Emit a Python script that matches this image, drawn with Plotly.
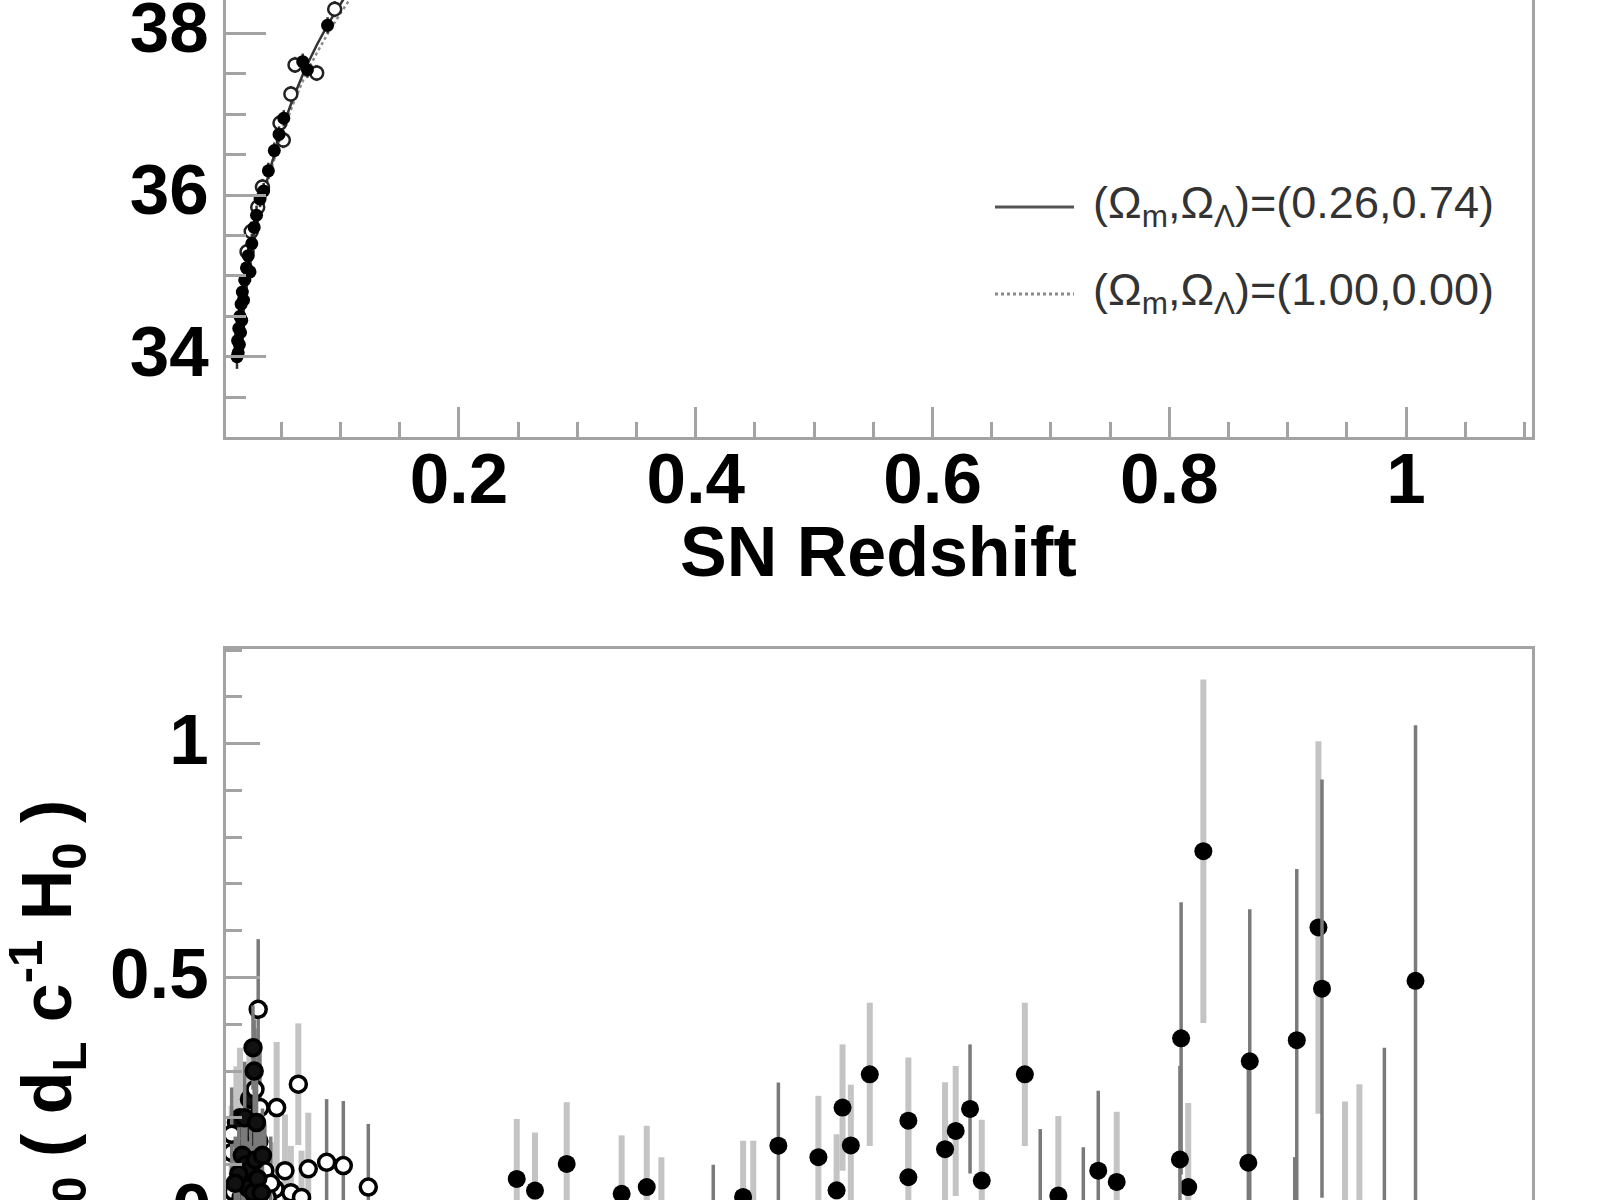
import plotly.graph_objects as go

# ---------------- data: top panel (distance modulus vs redshift, visible low-z part) ----------------
curve_z = [0.013, 0.015, 0.0175, 0.02, 0.025, 0.03, 0.035, 0.04, 0.05, 0.06, 0.07, 0.08, 0.09, 0.10, 0.11]
curve_mu_lcdm = [33.95, 34.15, 34.50, 34.80, 35.28, 35.68, 36.02, 36.30, 36.80, 37.20, 37.56, 37.86, 38.13, 38.37, 38.60]
curve_mu_eds = [33.94, 34.13, 34.48, 34.78, 35.25, 35.64, 35.98, 36.25, 36.74, 37.13, 37.48, 37.76, 38.02, 38.25, 38.47]

top_filled_z = [0.0125, 0.013, 0.0135, 0.014, 0.0145, 0.015, 0.0155, 0.016, 0.0165, 0.017, 0.018, 0.019,
                0.0205, 0.022, 0.0235, 0.025, 0.027, 0.029, 0.032, 0.035, 0.039, 0.044, 0.048, 0.052,
                0.068, 0.072, 0.089]
top_filled_mu = [34.00, 34.20, 34.05, 34.35, 34.15, 34.50, 34.30, 34.65, 34.45, 34.80, 34.70, 34.95,
                 35.10, 35.25, 35.05, 35.40, 35.60, 35.75, 35.95, 36.05, 36.30, 36.55, 36.75, 36.95,
                 37.65, 37.55, 38.10]
top_filled_err = [0.15, 0.15, 0.12, 0.15, 0.12, 0.15, 0.12, 0.15, 0.12, 0.15, 0.12, 0.12,
                  0.12, 0.12, 0.12, 0.12, 0.12, 0.12, 0.10, 0.10, 0.10, 0.10, 0.10, 0.10,
                  0.10, 0.10, 0.10]

top_open_z = [0.021, 0.0245, 0.030, 0.034, 0.0488, 0.0516, 0.058, 0.0615, 0.0798, 0.095]
top_open_mu = [35.30, 35.55, 35.85, 36.10, 36.89, 36.68, 37.25, 37.61, 37.51, 38.30]
top_open_err = [0.12, 0.12, 0.12, 0.10, 0.10, 0.10, 0.10, 0.10, 0.10, 0.10]

# ---------------- data: bottom panel (log10(dL c^-1 H0)) ----------------
low_z = [0.0304, 0.0643, 0.046, 0.0319, 0.0277, 0.0882, 0.1023, 0.0727, 0.1234, 0.053, 0.036, 0.008,
         0.0094, 0.0446, 0.008, 0.015, 0.017, 0.018, 0.020, 0.021, 0.022, 0.024, 0.025, 0.026,
         0.028, 0.030, 0.031, 0.033, 0.034, 0.014, 0.012, 0.019, 0.023, 0.027, 0.029, 0.026,
         0.011, 0.016, 0.038, 0.041, 0.058, 0.067]
low_v = [0.432, 0.272, 0.222, 0.222, 0.261, 0.105, 0.098, 0.091, 0.052, 0.087, 0.087, 0.126,
         0.042, 0.048, 0.165, 0.200, 0.120, 0.060, 0.100, 0.140, 0.050, 0.090, 0.170, 0.040,
         0.110, 0.070, 0.150, 0.040, 0.120, 0.080, 0.190, 0.200, 0.240, 0.300, 0.190, 0.350,
         0.060, 0.030, 0.030, 0.060, 0.040, 0.030]
low_err = [0.150, 0.130, 0.140, 0.140, 0.130, 0.135, 0.138, 0.120, 0.135, 0.120, 0.100, 0.100,
           0.100, 0.100, 0.100, 0.150, 0.100, 0.100, 0.100, 0.120, 0.100, 0.100, 0.120, 0.100,
           0.100, 0.100, 0.110, 0.100, 0.100, 0.100, 0.120, 0.120, 0.120, 0.110, 0.100, 0.090,
           0.100, 0.100, 0.100, 0.100, 0.100, 0.100]
low_bar_dark = [1, 0, 0, 1, 1, 1, 1, 0, 1, 0, 1, 0,
                0, 0, 1, 0, 1, 1, 1, 0, 1, 1, 0, 1,
                1, 1, 0, 1, 1, 1, 0, 1, 0, 1, 1, 1,
                1, 0, 0, 1, 0, 0]
# 1 = dense low-z cluster drawn as solid dark marks
low_dense = [0, 0, 0, 0, 0, 0, 0, 0, 0, 0, 0, 0,
             0, 0, 0, 1, 1, 1, 1, 1, 1, 1, 1, 1,
             1, 1, 1, 1, 1, 1, 1, 1, 1, 1, 1, 1,
             1, 1, 0, 0, 0, 0]

high_z = [0.2488, 0.2642, 0.291, 0.3374, 0.3586, 0.440, 0.4698, 0.5036, 0.519, 0.524, 0.531, 0.547,
          0.5796, 0.5796, 0.6106, 0.6196, 0.6317, 0.6416, 0.678, 0.7063, 0.740, 0.7556, 0.809, 0.810,
          0.816, 0.8288, 0.868, 0.8668, 0.9077, 0.926, 0.929, 1.008,
          0.371, 0.4148, 0.4486, 0.691, 0.7274, 0.906, 0.9485, 0.9606, 0.9817]
high_v = [0.0695, 0.0446, 0.1015, 0.0375, 0.052, 0.031, 0.1405, 0.116, 0.045, 0.222, 0.141, 0.293,
          0.194, 0.073, 0.133, 0.172, 0.219, 0.066, 0.293, 0.034, 0.087, 0.063, 0.111, 0.370,
          0.052, 0.770, 0.321, 0.104, 0.366, 0.607, 0.476, 0.493,
          -0.03, -0.05, -0.02, -0.05, -0.03, -0.15, -0.10, -0.12, -0.06]
high_err = [0.128, 0.124, 0.132, 0.125, 0.131, 0.120, 0.135, 0.131, 0.120, 0.135, 0.130, 0.153,
            0.135, 0.130, 0.143, 0.139, 0.138, 0.130, 0.153, 0.170, 0.171, 0.150, 0.200, 0.291,
            0.180, 0.367, 0.325, 0.200, 0.366, 0.398, 0.447, 0.546,
            0.146, 0.150, 0.171, 0.226, 0.167, 0.266, 0.335, 0.392, 0.410]
high_bar_dark = [0, 0, 0, 0, 0, 0, 1, 0, 0, 0, 0, 0,
                 0, 0, 0, 0, 1, 0, 0, 0, 1, 0, 1, 1,
                 0, 0, 1, 1, 1, 0, 1, 1,
                 0, 1, 0, 1, 1, 1, 0, 0, 1]

# ---------------- tick labels ----------------
x_tickvals = [0.2, 0.4, 0.6, 0.8, 1.0]
x_ticktext = ["0.2", "0.4", "0.6", "0.8", "1"]
top_y_tickvals = [34, 36, 38]
top_y_ticktext = ["34", "36", "38"]
bot_y_tickvals = [0.5, 1.0]
bot_y_ticktext = ["0.5", "1"]
bot_zero_label = "0"

legend_labels = ["(Ω<sub>m</sub>,Ω<sub>Λ</sub>)=(0.26,0.74)", "(Ω<sub>m</sub>,Ω<sub>Λ</sub>)=(1.00,0.00)"]
x_title = "SN Redshift"
y_title_bottom = "log<sub>10</sub> ( d<sub>L</sub> c<sup>-1</sup> H<sub>0</sub> )"

# ---------------- geometry ----------------
W, H = 1600, 1200
FONT = "Liberation Sans, Arial, Helvetica, sans-serif"
AXC = "#a3a3a3"
LIGHT_BAR = "#c4c4c4"
DARK_BAR = "#7a7a7a"


def px_x(p):
    return p / W


def px_y(p):
    return 1 - p / H


x_dom = [px_x(226), px_x(1532)]
top_dom = [px_y(437), 1.0]
bot_dom = [0.0, px_y(649)]
x_range = [0.0032, 1.1064]
top_y_range = [33.007, 38.413]
bot_y_range = [0.0244, 1.2022]

fig = go.Figure()

# top panel curves
fig.add_trace(go.Scatter(x=curve_z, y=curve_mu_eds, mode="lines", xaxis="x", yaxis="y",
                         line=dict(color="#8a8a8a", width=2.5, dash="dot"), showlegend=False))
fig.add_trace(go.Scatter(x=curve_z, y=curve_mu_lcdm, mode="lines", xaxis="x", yaxis="y",
                         line=dict(color="#333333", width=2.5), showlegend=False))
# top panel points
fig.add_trace(go.Scatter(x=top_open_z, y=top_open_mu, mode="markers", xaxis="x", yaxis="y",
                         error_y=dict(type="data", array=top_open_err, color="#444444", thickness=2.5, width=0),
                         marker=dict(color="white", size=13, symbol="circle", line=dict(color="#222222", width=2.5)),
                         showlegend=False))
fig.add_trace(go.Scatter(x=top_filled_z, y=top_filled_mu, mode="markers", xaxis="x", yaxis="y",
                         error_y=dict(type="data", array=top_filled_err, color="#333333", thickness=2.5, width=0),
                         marker=dict(color="black", size=13, symbol="circle"), showlegend=False))


def subset(vals, flags, want, flags2=None, want2=None):
    if flags2 is None:
        return [v for v, f in zip(vals, flags) if f == want]
    return [v for v, f, g in zip(vals, flags, flags2) if f == want and g == want2]


# bottom panel: light bars first, then dark bars
for dark in (0, 1):
    col = DARK_BAR if dark else LIGHT_BAR
    thick = 3.5 if dark else 6
    fig.add_trace(go.Scatter(
        x=subset(high_z, high_bar_dark, dark), y=subset(high_v, high_bar_dark, dark), mode="markers",
        xaxis="x2", yaxis="y2",
        error_y=dict(type="data", array=subset(high_err, high_bar_dark, dark), color=col, thickness=thick, width=0),
        marker=dict(color="black", size=18, symbol="circle"), showlegend=False))
    for dense in (0, 1):
        fig.add_trace(go.Scatter(
            x=subset(low_z, low_bar_dark, dark, low_dense, dense),
            y=subset(low_v, low_bar_dark, dark, low_dense, dense), mode="markers",
            xaxis="x2", yaxis="y2",
            error_y=dict(type="data", array=subset(low_err, low_bar_dark, dark, low_dense, dense),
                         color=col, thickness=thick, width=0),
            marker=dict(color="#111111" if dense else "white", size=16, symbol="circle",
                        line=dict(color="black", width=3.5)),
            showlegend=False))

tickfont = dict(family=FONT, size=71, color="black", weight="bold")

common_x = dict(domain=x_dom, range=x_range, showgrid=False, zeroline=False, showline=True,
                linecolor=AXC, linewidth=3, automargin=False)

fig.update_layout(
    width=W, height=H,
    margin=dict(l=0, r=0, t=0, b=0, autoexpand=False),
    paper_bgcolor="white", plot_bgcolor="white",
    font=dict(family=FONT),
    xaxis=dict(**common_x, anchor="y", mirror=False,
               tickmode="array", tickvals=x_tickvals, ticktext=x_ticktext,
               ticks="inside", ticklen=30, tickwidth=3, tickcolor=AXC,
               tickfont=tickfont, ticklabelstandoff=-22, ticklabeloverflow="allow",
               minor=dict(ticks="inside", ticklen=15, tickwidth=3, tickcolor=AXC,
                          tickmode="linear", tick0=0, dtick=0.05, showgrid=False)),
    yaxis=dict(domain=top_dom, anchor="x", range=top_y_range, showgrid=False, zeroline=False,
               showline=True, mirror=True, linecolor=AXC, linewidth=3, automargin=False,
               tickmode="array", tickvals=top_y_tickvals, ticktext=top_y_ticktext,
               ticks="inside", ticklen=40, tickwidth=3, tickcolor=AXC,
               tickfont=tickfont, ticklabelstandoff=0, ticklabelshift=-6, ticklabeloverflow="allow",
               minor=dict(ticks="inside", ticklen=20, tickwidth=3, tickcolor=AXC,
                          tickmode="linear", tick0=33, dtick=0.5, showgrid=False)),
    xaxis2=dict(**common_x, anchor="y2", side="top", mirror=False, ticks="", showticklabels=False),
    yaxis2=dict(domain=bot_dom, anchor="x2", range=bot_y_range, showgrid=False, zeroline=False,
                showline=True, mirror=True, linecolor=AXC, linewidth=3, automargin=False,
                tickmode="array", tickvals=bot_y_tickvals, ticktext=bot_y_ticktext,
                ticks="inside", ticklen=34, tickwidth=3, tickcolor=AXC,
                tickfont=tickfont, ticklabelstandoff=0, ticklabelshift=-4, ticklabeloverflow="allow",
                minor=dict(ticks="inside", ticklen=16, tickwidth=3, tickcolor=AXC,
                           tickmode="linear", tick0=0, dtick=0.1, showgrid=False)),
    showlegend=False,
)

annotations = [
    dict(text=x_title, x=(x_dom[0] + x_dom[1]) / 2, y=px_y(552), xref="paper", yref="paper",
         xanchor="center", yanchor="middle", showarrow=False,
         font=dict(family=FONT, size=70, color="black", weight="bold")),
    dict(text=y_title_bottom, x=px_x(47), y=px_y(1068), xref="paper", yref="paper", textangle=-90,
         xanchor="center", yanchor="middle", showarrow=False,
         font=dict(family=FONT, size=70, color="black", weight="bold")),
    dict(text=bot_zero_label, x=px_x(214), y=px_y(1208), xref="paper", yref="paper",
         xanchor="right", yanchor="middle", showarrow=False,
         font=dict(family=FONT, size=71, color="black", weight="bold")),
]
legend_rows_y = [207, 294]
for lab, ypx in zip(legend_labels, legend_rows_y):
    annotations.append(dict(text=lab, x=px_x(1091), y=px_y(ypx - 2), xref="paper", yref="paper",
                            xanchor="left", yanchor="middle", showarrow=False,
                            font=dict(family=FONT, size=45, color="#333333")))
fig.update_layout(annotations=annotations)

fig.add_shape(type="line", xref="paper", yref="paper", x0=px_x(995), x1=px_x(1074),
              y0=px_y(legend_rows_y[0]), y1=px_y(legend_rows_y[0]), line=dict(color="#555555", width=3))
fig.add_shape(type="line", xref="paper", yref="paper", x0=px_x(995), x1=px_x(1074),
              y0=px_y(legend_rows_y[1]), y1=px_y(legend_rows_y[1]), line=dict(color="#8a8a8a", width=3, dash="dot"))

fig.write_html("out.html", config={"displayModeBar": False},
               post_script="document.body.style.margin='0px'; document.body.style.overflow='hidden';")
